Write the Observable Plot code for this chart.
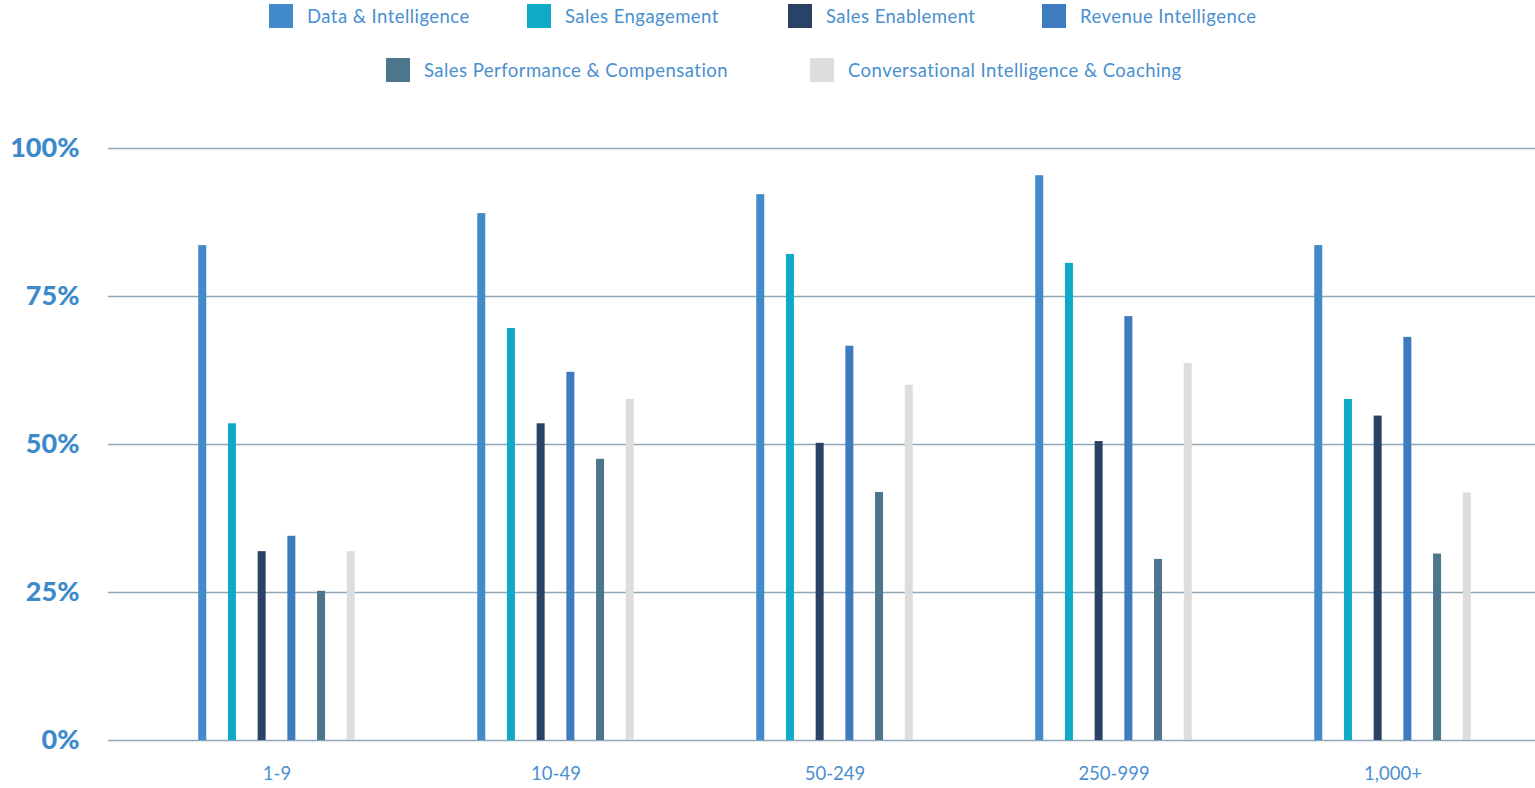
<!DOCTYPE html>
<html>
<head>
<meta charset="utf-8">
<script src="https://cdn.jsdelivr.net/npm/d3@7"></script>
<script src="https://cdn.jsdelivr.net/npm/@observablehq/plot@0.6"></script>
<style>
  html, body { margin: 0; padding: 0; background: #fff; }
  body { width: 1535px; height: 788px; overflow: hidden; font-family: Lato, "Open Sans", sans-serif; }
  #legend { position: relative; height: 100px; width: 1535px; }
  .item { position: absolute; display: flex; align-items: center; height: 24px; color: #4a90d0; font-size: 18.5px; letter-spacing: 0.45px; white-space: nowrap; }
  .sw { width: 24px; height: 24px; margin-right: 14px; flex: none; }
</style>
</head>
<body>
<div id="legend"></div>
<div id="chart"></div>
<script>
const groups = ["1-9", "10-49", "50-249", "250-999", "1,000+"];
const series = ["Data & Intelligence", "Sales Engagement", "Sales Enablement", "Revenue Intelligence", "Sales Performance & Compensation", "Conversational Intelligence & Coaching"];
const colors = ["#418bca", "#0eaac8", "#2a4266", "#3e7bbf", "#4d758b", "#dddddd"];
const dataIntelligence   = [83.6, 89.0, 92.2, 95.4, 83.6];
const salesEngagement    = [53.5, 69.6, 82.1, 80.6, 57.6];
const salesEnablement    = [31.9, 53.5, 50.2, 50.5, 54.8];
const revenueIntel       = [34.5, 62.2, 66.6, 71.6, 68.1];
const salesPerformance   = [25.2, 47.5, 41.9, 30.6, 31.5];
const conversational     = [31.9, 57.6, 60.0, 63.7, 41.8];
const yTicks = [0, 25, 50, 75, 100];

const values = [dataIntelligence, salesEngagement, salesEnablement, revenueIntel, salesPerformance, conversational];

// legend (HTML, above the SVG)
const legendPos = [[269, 4], [527, 4], [788, 4], [1042, 4], [386, 58], [810, 58]];
const legend = document.getElementById("legend");
series.forEach((s, i) => {
  const it = document.createElement("div");
  it.className = "item";
  it.style.left = legendPos[i][0] + "px";
  it.style.top = legendPos[i][1] + "px";
  it.innerHTML = `<span class="sw" style="background:${colors[i]}"></span><span>${s.replace("&", "&amp;")}</span>`;
  legend.appendChild(it);
});

const step = 279, barW = 8, gap = 29.7;
const marks = [
  Plot.ruleY(yTicks, {stroke: "#8ea6b6", strokeWidth: 1.5})
];
series.forEach((s, i) => {
  const rows = groups.map((g, j) => ({group: g, series: s, value: values[i][j]}));
  marks.push(Plot.barY(rows, {
    x: "group", y: "value", fill: colors[i],
    dx: (i - 2.5) * gap,
    insetLeft: (step - barW) / 2, insetRight: (step - barW) / 2
  }));
});
marks.push(Plot.axisY({ticks: yTicks, tickFormat: d => d + "%", tickSize: 0, tickPadding: 29,
  fontSize: 27, fontWeight: 900, fill: "#3d8acb", style: {letterSpacing: "1.2px"}}));
marks.push(Plot.axisX({tickSize: 0, tickPadding: 26, fontSize: 18.5, fill: "#4a90d0", style: {letterSpacing: "0.6px"}}));

const chart = Plot.plot({
  width: 1535,
  height: 688,
  marginTop: 48,
  marginBottom: 48,
  marginLeft: 108,
  marginRight: 0,
  style: {fontFamily: "Lato, 'Open Sans', sans-serif", background: "#fff"},
  x: {type: "band", domain: groups, range: [136.5, 1532.5], padding: 0, label: null},
  y: {domain: [0, 100], label: null},
  marks
});
document.getElementById("chart").appendChild(chart);
</script>
</body>
</html>
